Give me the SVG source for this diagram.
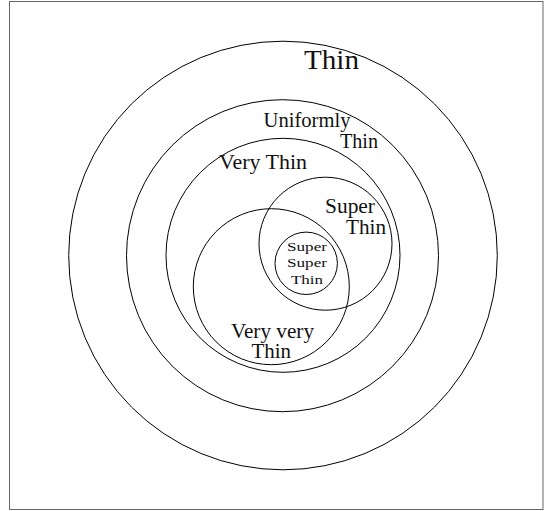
<svg xmlns="http://www.w3.org/2000/svg" width="549" height="511" viewBox="0 0 549 511">
<style>
.c{fill:none;stroke:#000;stroke-width:1}
text{font-family:"Liberation Serif","Times New Roman",serif;fill:#111}
.L{font-size:28px}
.M{font-size:20px}
.S{font-size:13.5px}
</style>
<rect x="0" y="0" width="549" height="511" fill="#fff"/>
<rect x="9.5" y="1.5" width="533.5" height="508" fill="none" stroke="#666" stroke-width="1"/>
<g id="thin">
<circle class="c" cx="283" cy="255.5" r="214.3"/>
<text class="L" x="304" y="69.3" textLength="55" lengthAdjust="spacingAndGlyphs">Thin</text>
</g>
<g id="uniformly-thin">
<circle class="c" cx="282.5" cy="255.7" r="156"/>
<text class="M" x="263.5" y="126.7" textLength="87" lengthAdjust="spacingAndGlyphs">Uniformly</text>
<text class="M" x="340" y="148" textLength="38" lengthAdjust="spacingAndGlyphs">Thin</text>
</g>
<g id="very-thin">
<circle class="c" cx="283" cy="255.3" r="117"/>
<text class="M" x="219" y="169.3" textLength="88" lengthAdjust="spacingAndGlyphs">Very Thin</text>
</g>
<g id="super-thin">
<circle class="c" cx="325.5" cy="243.7" r="66.5"/>
<text class="M" x="325" y="213" textLength="50" lengthAdjust="spacingAndGlyphs">Super</text>
<text class="M" x="346" y="234" textLength="40" lengthAdjust="spacingAndGlyphs">Thin</text>
</g>
<g id="very-very-thin">
<circle class="c" cx="271.3" cy="286.7" r="78"/>
<text class="M" x="231" y="337.5" textLength="83" lengthAdjust="spacingAndGlyphs">Very very</text>
<text class="M" x="251.5" y="357.5" textLength="39.5" lengthAdjust="spacingAndGlyphs">Thin</text>
</g>
<g id="super-super-thin">
<circle class="c" cx="306.2" cy="263.3" r="31.2"/>
<text class="S" x="287" y="251" textLength="40" lengthAdjust="spacingAndGlyphs">Super</text>
<text class="S" x="287" y="266.5" textLength="40" lengthAdjust="spacingAndGlyphs">Super</text>
<text class="S" x="291" y="284" textLength="32" lengthAdjust="spacingAndGlyphs">Thin</text>
</g>
<g id="connectors"/>
</svg>
